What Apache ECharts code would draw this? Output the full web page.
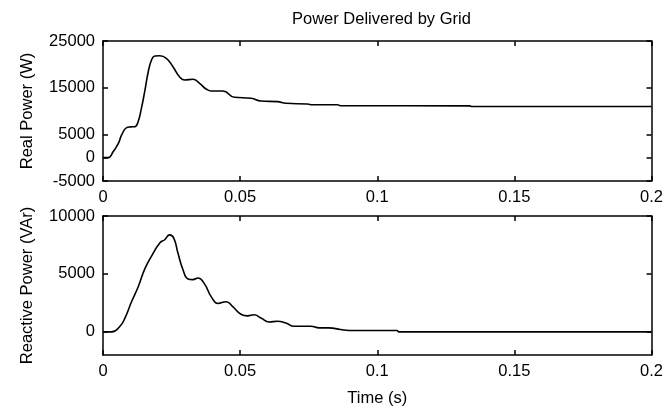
<!DOCTYPE html>
<html>
<head>
<meta charset="utf-8">
<script src="https://cdn.jsdelivr.net/npm/echarts@6/dist/echarts.min.js"></script>
<style>
  html, body { margin: 0; padding: 0; background: #fff; }
  #main { width: 666px; height: 408px; }
</style>
</head>
<body>
<div id="main"></div>
<script>
// time (s) and values
var realTime = [0, 0.0019, 0.0037, 0.0056, 0.0068, 0.0086, 0.0100, 0.0116, 0.0128, 0.0140,
    0.0152, 0.0165, 0.0177, 0.0189, 0.0207, 0.0231, 0.0255, 0.0279, 0.0298, 0.0328,
    0.0352, 0.0376, 0.0395, 0.0437, 0.0479, 0.0540, 0.0576, 0.0636, 0.0667, 0.0745,
    0.0758, 0.0854, 0.0866, 0.1337, 0.1345, 0.2];
var realPower = [0, 0, 1280, 3080, 4860, 6430, 6600, 6640, 7710, 10570,
    14140, 18420, 20930, 21790, 21850, 21290, 19500, 17350, 16640, 16790,
    15930, 14710, 14280, 14280, 12930, 12720, 12140, 12000, 11650, 11500,
    11350, 11350, 11140, 11100, 10950, 10950];

var reactTime = [0, 0.0032, 0.0062, 0.0080, 0.0104, 0.0128, 0.0152, 0.0177, 0.0207, 0.0225,
    0.0243, 0.0258, 0.0273, 0.0291, 0.0310, 0.0328, 0.0346, 0.0370, 0.0395, 0.0419,
    0.0449, 0.0473, 0.0503, 0.0527, 0.0551, 0.0576, 0.0606, 0.0636, 0.0667, 0.0697,
    0.0758, 0.0788, 0.0824, 0.0866, 0.0897, 0.1072, 0.1078, 0.2];
var reactivePower = [0, 0, 485, 1190, 2600, 3870, 5410, 6540, 7670, 7950,
    8370, 8090, 6820, 5410, 4570, 4510, 4650, 4140, 3020, 2450,
    2600, 2170, 1520, 1380, 1470, 1190, 850, 910, 760, 485,
    485, 340, 340, 200, 115, 115, 0, 0];

var xTicks = [0, 0.05, 0.1, 0.15, 0.2];
var realTicks = [-5000, 0, 5000, 15000, 25000];
var reactTicks = [0, 5000, 10000];

var font = 'Liberation Sans, Arial, sans-serif';
var fs = 16.5;

function pairs(xs, ys) {
    var out = [];
    for (var i = 0; i < xs.length; i++) out.push([xs[i], ys[i]]);
    return out;
}

function plain(v) { return String(v); }

function xAxisOf(grid, pos, labels, name) {
    return {
        type: 'value', gridIndex: grid, position: pos, min: 0, max: 0.2,
        name: name || '', nameLocation: 'middle', nameGap: 35,
        nameTextStyle: { color: '#000', fontSize: fs, fontFamily: font },
        axisLine: { show: true, onZero: false, lineStyle: { color: '#000', width: 1.5 } },
        axisTick: { show: true, inside: true, length: 5, customValues: xTicks, lineStyle: { color: '#000', width: 1.5 } },
        axisLabel: { show: labels, customValues: xTicks, formatter: plain, margin: 8, color: '#000', fontSize: fs, fontFamily: font },
        splitLine: { show: false }
    };
}

function yAxisOf(grid, pos, min, max, ticks, labels, name) {
    return {
        type: 'value', gridIndex: grid, position: pos, min: min, max: max,
        name: name || '', nameLocation: 'middle', nameGap: 67,
        nameTextStyle: { color: '#000', fontSize: fs, fontFamily: font },
        axisLine: { show: true, onZero: false, lineStyle: { color: '#000', width: 1.5 } },
        axisTick: { show: true, inside: true, length: 5, customValues: ticks, lineStyle: { color: '#000', width: 1.5 } },
        axisLabel: { show: labels, customValues: ticks, formatter: plain, margin: 8, color: '#000', fontSize: fs, fontFamily: font },
        splitLine: { show: false }
    };
}

var chart = echarts.init(document.getElementById('main'));

var option = {
    animation: false,
    backgroundColor: '#fff',
    title: {
        text: 'Power Delivered by Grid',
        left: 287, top: 6,
        textStyle: { color: '#000', fontSize: fs, fontWeight: 'normal', fontFamily: font }
    },
    grid: [
        { left: 103, right: 12, top: 41, height: 140 },
        { left: 103, right: 12, top: 216, height: 142 }
    ],
    xAxis: [
        xAxisOf(0, 'bottom', true),
        xAxisOf(0, 'top', false),
        xAxisOf(1, 'bottom', true, 'Time (s)'),
        xAxisOf(1, 'top', false)
    ],
    yAxis: [
        yAxisOf(0, 'left', -5000, 25000, realTicks, true, 'Real Power (W)'),
        yAxisOf(0, 'right', -5000, 25000, realTicks, false),
        yAxisOf(1, 'left', -2000, 10000, reactTicks, true, 'Reactive Power (VAr)'),
        yAxisOf(1, 'right', -2000, 10000, reactTicks, false)
    ],
    series: [
        {
            name: 'Real Power', type: 'line', xAxisIndex: 0, yAxisIndex: 0,
            data: pairs(realTime, realPower),
            showSymbol: false, smooth: 0.5,
            lineStyle: { color: '#000', width: 1.6 }
        },
        {
            name: 'Reactive Power', type: 'line', xAxisIndex: 2, yAxisIndex: 2,
            data: pairs(reactTime, reactivePower),
            showSymbol: false, smooth: 0.5,
            lineStyle: { color: '#000', width: 1.6 }
        }
    ]
};

chart.setOption(option);
</script>
</body>
</html>
